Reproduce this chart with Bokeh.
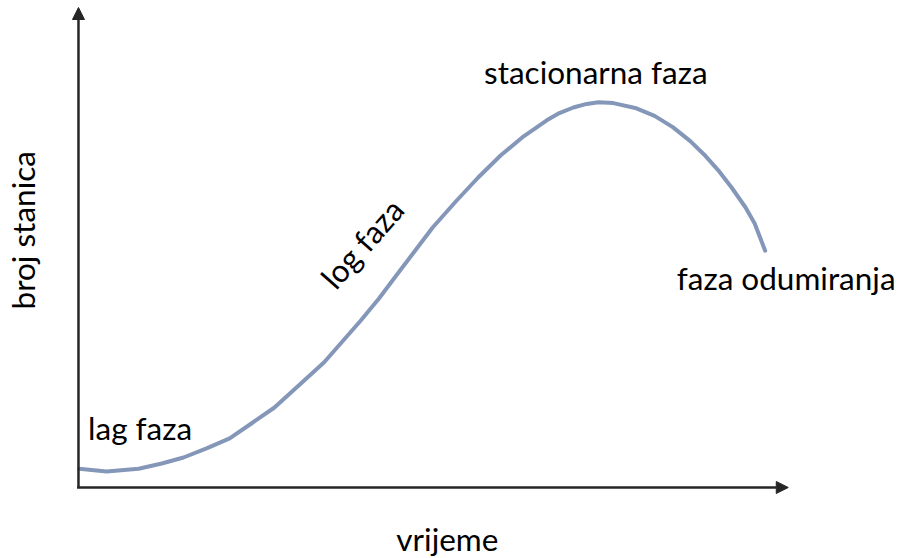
from bokeh.plotting import figure
from bokeh.models import Range1d, Arrow, NormalHead, ColumnDataSource
from bokeh.core.properties import value
from bokeh.embed import file_html
from bokeh.resources import INLINE

# growth curve (time, cell count), arbitrary units
time = [0.01, 0.40, 0.86, 1.19, 1.50, 1.83, 2.16, 2.47, 2.80, 3.24, 3.51,
        3.77, 4.03, 4.29, 4.54, 4.80, 5.06, 5.39, 5.71, 6.03, 6.36, 6.69,
        6.87, 7.07, 7.26, 7.43, 7.64, 7.97, 8.23, 8.49, 8.74, 8.94, 9.14,
        9.33, 9.53, 9.66, 9.81]
count = [0.47, 0.40, 0.47, 0.60, 0.75, 0.98, 1.23, 1.60, 2.00, 2.70, 3.13,
         3.65, 4.17, 4.72, 5.30, 5.90, 6.50, 7.15, 7.75, 8.30, 8.78, 9.18,
         9.36, 9.50, 9.59, 9.63, 9.61, 9.48, 9.29, 9.01, 8.66, 8.32, 7.93,
         7.50, 7.00, 6.60, 5.92]

# phase labels
labels = ["lag faza", "log faza", "stacionarna faza", "faza odumiranja"]
label_t = [0.88, 4.05, 7.39, 10.11]
label_c = [1.50, 6.10, 10.38, 5.23]

x_title = "vrijeme"
y_title = "broj stanica"

FONT = "Lato"
FS = "31.5px"
AXIS_COLOR = "#262626"
CURVE_COLOR = "#8497b9"

p = figure(width=899, height=558, output_backend="svg", toolbar_location=None,
           x_range=Range1d(-1.114, 11.729), y_range=Range1d(-1.775, 12.175),
           x_axis_type=None, y_axis_type=None, min_border=0)
p.grid.visible = False
p.outline_line_color = None
p.background_fill_color = "white"
p.border_fill_color = "white"

# axes as arrows
p.add_layout(Arrow(end=NormalHead(size=12, fill_color=AXIS_COLOR, line_color=AXIS_COLOR),
                   x_start=-0.02, y_start=0, x_end=10.14, y_end=0,
                   line_color=AXIS_COLOR, line_width=2.5))
p.add_layout(Arrow(end=NormalHead(size=12, fill_color=AXIS_COLOR, line_color=AXIS_COLOR),
                   x_start=0, y_start=0, x_end=0, y_end=12.0,
                   line_color=AXIS_COLOR, line_width=2.5))

p.line(time, count, line_color=CURVE_COLOR, line_width=4, line_cap="round", line_join="round")

# horizontal labels
hsrc = ColumnDataSource(dict(t=[label_t[0], label_t[2], label_t[3]],
                             c=[label_c[0], label_c[2], label_c[3]],
                             s=[labels[0], labels[2], labels[3]]))
p.text(x="t", y="c", text="s", source=hsrc, text_font=value(FONT), text_font_size=FS,
       text_align="center", text_baseline="alphabetic", text_color="black")

# rotated log phase label
p.text(x=[label_t[1]], y=[label_c[1]], text=[labels[1]], angle=0.85,
       text_font=value(FONT), text_font_size=FS,
       text_align="center", text_baseline="middle", text_color="black")

# axis titles
p.text(x=[5.27], y=[-1.28], text=[x_title], text_font=value(FONT), text_font_size=FS,
       text_align="center", text_baseline="alphabetic", text_color="black")
p.text(x=[-0.79], y=[6.43], text=[y_title], angle=1.5708, text_font=value(FONT),
       text_font_size=FS, text_align="center", text_baseline="alphabetic",
       text_color="black")

open("out.html", "w").write(file_html(p, INLINE))
